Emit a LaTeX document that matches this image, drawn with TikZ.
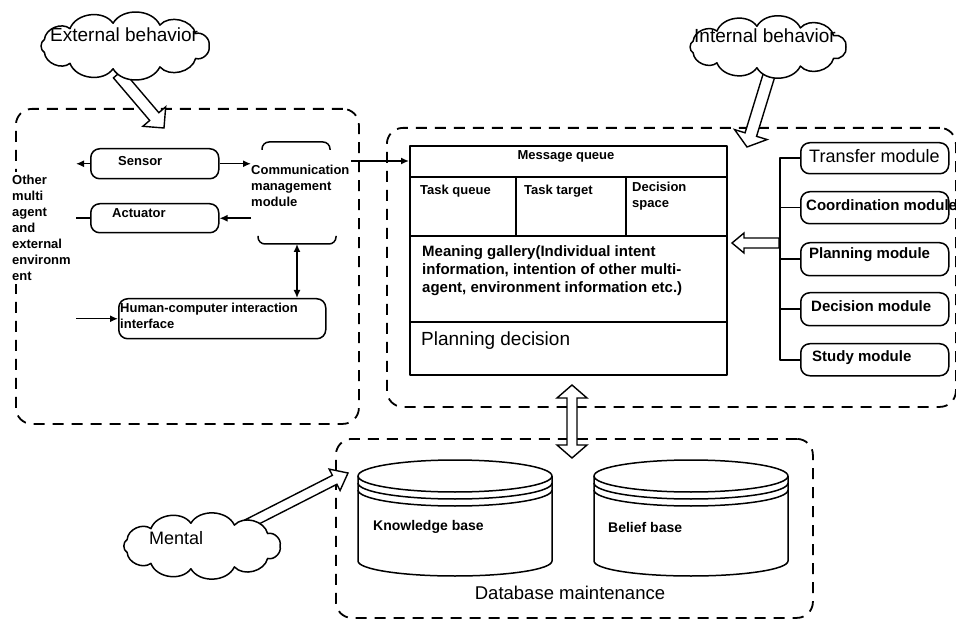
\documentclass[tikz,border=0pt]{standalone}
\usepackage{fontspec}
\setmainfont{Liberation Sans}
\usetikzlibrary{calc,arrows.meta}

% #1 tail, #2 tip, #3 half shaft, #4 half head, #5 head length, #6 name
\newcommand{\hollowarrow}[6]{%
  \coordinate (#6n) at ($(#2)!#5!(#1)$);
  \draw[harrow] ($(#1)!#3!90:(#2)$) -- ($(#6n)!#3!90:(#2)$) -- ($(#6n)!#4!90:(#2)$) -- (#2)
    -- ($(#6n)!#4!-90:(#2)$) -- ($(#6n)!#3!-90:(#2)$) -- ($(#1)!#3!-90:(#2)$) -- cycle;
}
% #1 centre coordinate, #2 x radius, #3 y radius, #4 puffs
\newcommand{\cloudat}[4]{%
  \draw[cloudline] ($(#1)+(0:#2 and #3)$)
    \foreach \i in {1,...,#4}{ to[bend right=62] ($(#1)+({360*\i/#4}:#2 and #3)$) } -- cycle;
}

\begin{document}
\begin{tikzpicture}[x=1pt,y=-1pt, line join=round,
  >={Latex[length=8pt,width=7pt]},
  dashbox/.style={draw, line width=1.8pt, dash pattern=on 11pt off 8pt, rounded corners=16pt, inner sep=0pt},
  roundbox/.style={draw, line width=1.5pt, rounded corners=9pt, inner sep=0pt},
  lbl/.style={inner sep=0pt, font=\fontsize{13}{16}\selectfont\bfseries, align=left},
  modlbl/.style={inner sep=0pt, font=\fontsize{15}{18}\selectfont\bfseries, align=left},
  big/.style={inner sep=0pt, font=\fontsize{19}{22}\selectfont},
  conn/.style={line width=1.5pt},
  harrow/.style={draw, fill=white, line width=1.4pt, line join=miter},
  cloudline/.style={draw, fill=white, line width=1.5pt}
]
\useasboundingbox (0,0) rectangle (956,620);

% frames
\node[dashbox, minimum width=343pt, minimum height=315pt, anchor=north west] (extframe) at (15,108) {};
\node[dashbox, minimum width=569pt, minimum height=279pt, anchor=north west] (intframe) at (386,127) {};
\node[dashbox, minimum width=477pt, minimum height=179pt, anchor=north west] (dbframe) at (335,438) {};

% hollow arrows
\coordinate (ea1) at (118,74); \coordinate (ea2) at (164,128);
\hollowarrow{ea1}{ea2}{6pt}{15pt}{15pt}{ea}
\coordinate (ia1) at (770,72); \coordinate (ia2) at (747,147);
\hollowarrow{ia1}{ia2}{6pt}{17pt}{13pt}{ia}
\coordinate (ma1) at (246,525); \coordinate (ma2) at (348,473);
\hollowarrow{ma1}{ma2}{5pt}{12pt}{15pt}{ma}
\coordinate (ba1) at (779,243); \coordinate (ba2) at (732,243);
\hollowarrow{ba1}{ba2}{5pt}{10pt}{12pt}{ba}

% vertical double hollow arrow
\coordinate (va1) at (572,385); \coordinate (va2) at (572,458);
\draw[harrow] (va1) -- ++(15,13) -- ++(-10,0) -- ($(va2)+(5,-13)$) -- ++(10,0) -- (va2)
  -- ++(-15,-13) -- ++(10,0) -- ($(va1)+(-5,13)$) -- ++(-10,0) -- cycle;

% clouds
\coordinate (extc) at (125,46);
\cloudat{extc}{84pt}{23pt}{11}
\node[big, anchor=west] (exttext) at (50,35) {External behavior};
\coordinate (intc) at (768,47);
\cloudat{intc}{78pt}{21pt}{11}
\node[big, anchor=west] (inttext) at (694,36) {Internal behavior};
\coordinate (mentc) at (202,546);
\cloudat{mentc}{78pt}{23pt}{11}
\node[big, anchor=west, font=\fontsize{18}{21}\selectfont] (menttext) at (149,538) {Mental};

% left part
\node[roundbox, minimum width=128pt, minimum height=30pt, anchor=north west] (sensor) at (90,148) {};
\node[lbl, anchor=west] (sensort) at (118,161) {Sensor};
\node[roundbox, minimum width=128pt, minimum height=29pt, anchor=north west] (actuator) at (90,203) {};
\node[lbl, anchor=west] (actuatort) at (112,213) {Actuator};
\node[roundbox, minimum width=207pt, minimum height=40pt, anchor=north west] (hci) at (118,298) {};
\node[lbl, anchor=west] (hcit) at (120,316) {Human-computer interaction\\interface};
\node[lbl, anchor=west] (comm) at (251,186) {Communication\\management\\module};
\node[lbl, anchor=west, fill=white, inner ysep=3pt] (other) at (12,228) {Other\\multi\\agent\\and\\external\\environm\\ent};

\draw[conn, rounded corners=7pt] (262,150) -- (262,142) -- (330,142) -- (330,150);
\draw[conn, rounded corners=7pt] (258,236) -- (258,244) -- (336,244) -- (336,236);

\coordinate (envx) at (76,0);
\coordinate (commb) at (297,244);
\coordinate (commout) at (351,161);
\draw[conn,->] (sensor.west) -- (sensor.west -| envx);
\draw[conn,->] (sensor.east) -- (sensor.east -| comm.west);
\draw[conn] (actuator.west) -- (actuator.west -| envx);
\draw[conn,->] (actuator.east -| comm.west) -- (actuator.east);
\draw[conn,->] (hci.west -| envx) -- (hci.west);
\draw[conn,<->] (commb) -- (commb |- hci.north);

% main box
\node[draw, line width=2pt, minimum width=317pt, minimum height=229pt, anchor=north west, inner sep=0pt] (mainbox) at (409,145) {};
\draw[line width=2pt] (409,177) -- (726,177);
\draw[line width=2pt] (409,236) -- (726,236);
\draw[line width=2pt] (409,322) -- (726,322);
\draw[line width=2pt] (516,177) -- (516,236);
\draw[line width=2pt] (626,177) -- (626,236);
\draw[conn,->] (commout) -- (commout -| mainbox.west);

\node[lbl] (msgq) at (566,156) {Message queue};
\node[lbl, anchor=west] (taskq) at (420,191) {Task queue};
\node[lbl, anchor=west] (tasktg) at (524,191) {Task target};
\node[lbl, anchor=west] (decsp) at (632,196) {Decision\\space};
\node[modlbl, anchor=west] (meaning) at (422,271) {Meaning gallery(Individual intent\\information, intention of other multi-\\agent, environment information etc.)};
\node[big, anchor=west] (plandec) at (421,341) {Planning decision};

% modules
\node[roundbox, minimum width=148pt, minimum height=31pt, anchor=north west] (transfer) at (800,142) {};
\node[roundbox, minimum width=148pt, minimum height=32pt, anchor=north west] (coord) at (800,191) {};
\node[roundbox, minimum width=148pt, minimum height=33pt, anchor=north west] (planning) at (800,242) {};
\node[roundbox, minimum width=148pt, minimum height=33pt, anchor=north west] (decision) at (800,292) {};
\node[roundbox, minimum width=148pt, minimum height=32pt, anchor=north west] (study) at (800,343) {};
\node[big, anchor=west, font=\fontsize{18}{20}\selectfont] (transfert) at (809,156) {Transfer module};
\node[modlbl, anchor=west] (coordt) at (806,205) {Coordination module};
\node[modlbl, anchor=west] (planningt) at (809,255) {Planning module};
\node[modlbl, anchor=west] (decisiont) at (811,306) {Decision module};
\node[modlbl, anchor=west] (studyt) at (812,358) {Study module};

\coordinate (bus) at (780,0);
\draw[conn] (transfer.west) -- (transfer.west -| bus) -- (study.west -| bus) -- (study.west);
\draw[conn] (coord.west) -- (coord.west -| bus);
\draw[conn] (planning.west) -- (planning.west -| bus);
\draw[conn] (decision.west) -- (decision.west -| bus);

% cylinders
\coordinate (kb) at (455,476);
\coordinate (bb) at (691,476);
\foreach \c in {kb,bb}{
  \draw[line width=1.5pt, fill=white] ($(\c)+(-97,0)$) -- ($(\c)+(-97,85)$)
     arc[start angle=180, end angle=360, x radius=97pt, y radius=15pt] -- ($(\c)+(97,0)$);
  \draw[line width=1.5pt] (\c) ellipse[x radius=97pt, y radius=16pt];
  \draw[line width=1.5pt] ($(\c)+(-97,7)$) arc[start angle=180, end angle=360, x radius=97pt, y radius=16pt];
  \draw[line width=1.5pt] ($(\c)+(-97,14)$) arc[start angle=180, end angle=360, x radius=97pt, y radius=16pt];
}
\node[lbl, anchor=west, font=\fontsize{14}{16}\selectfont\bfseries] (kbt) at (373,527) {Knowledge base};
\node[lbl, anchor=west, font=\fontsize{14}{16}\selectfont\bfseries] (bbt) at (608,527) {Belief base};
\node[big, font=\fontsize{18.5}{22}\selectfont] (dbm) at (570,593) {Database maintenance};

\end{tikzpicture}
\end{document}
